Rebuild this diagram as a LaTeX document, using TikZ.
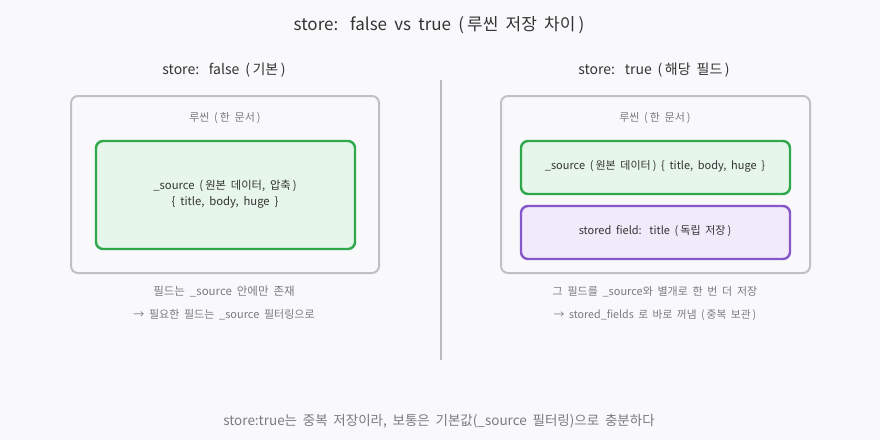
\documentclass[tikz,border=0pt]{standalone}
\usepackage{fontspec}
\setmainfont[WordSpace=1.9]{Noto Sans CJK KR}
\newcommand{\lpar}{(\hspace{0.18em}}
\newcommand{\rpar}{\hspace{0.18em})}
\begin{document}
\begin{tikzpicture}[x=1pt,y=-1pt,
  outerbox/.style={draw=outerc,line width=2pt,rounded corners=7pt,fill=bgc},
  srcbox/.style={draw=greenc,line width=2.4pt,rounded corners=7pt,fill=greenf},
  storedbox/.style={draw=purplec,line width=2.4pt,rounded corners=7pt,fill=purplef},
  lbl/.style={inner sep=0pt,anchor=center},
]
\definecolor{bgc}{HTML}{F9F9FC}
\definecolor{outerc}{HTML}{C0C1C7}
\definecolor{greenc}{HTML}{2EA84A}
\definecolor{greenf}{HTML}{E7F6EA}
\definecolor{purplec}{HTML}{8657C9}
\definecolor{purplef}{HTML}{F1EAFA}
\definecolor{darkt}{HTML}{333333}
\definecolor{grayt}{HTML}{7A7A80}
\definecolor{divc}{HTML}{BBBBC0}
\useasboundingbox (0,0) rectangle (880,440);
\fill[bgc] (0,0) rectangle (880,440);
% title
\node[lbl,text=darkt,font=\fontsize{17}{19}\selectfont] (title) at (439,25) {store:\hspace{0.2em} false vs true \lpar 루씬 저장 차이\rpar};
% headers
\node[lbl,text=darkt,font=\fontsize{14}{16}\selectfont] (lh) at (224,70) {store:\hspace{0.2em} false \lpar 기본\rpar};
\node[lbl,text=darkt,font=\fontsize{14}{16}\selectfont] (rh) at (654,70) {store:\hspace{0.2em} true \lpar 해당 필드\rpar};
% divider
\coordinate (dtop) at (441,80);
\coordinate (dbot) at (441,360);
\draw[divc,line width=1.5pt] (dtop) -- (dbot);
% left
\draw[outerbox] (71,96) rectangle (379,273);
\node[lbl,text=grayt,font=\fontsize{11}{12}\selectfont] (ll) at (225,118) {루씬 \lpar 한 문서\rpar};
\draw[srcbox] (96,141) rectangle (355,249);
\node[lbl,text=darkt,font=\fontsize{11.3}{15.5}\selectfont,align=center] (lsrc) at (225,194) {\_source \lpar 원본 데이터, 압축\rpar\\\{ title, body, huge \}};
\node[lbl,text=grayt,font=\fontsize{11.5}{12}\selectfont] (ln1) at (224,292) {필드는 \_source 안에만 존재};
\node[lbl,text=grayt,font=\fontsize{11}{12}\selectfont] (ln2) at (224,315) {→ 필요한 필드는 \_source 필터링으로};
% right
\draw[outerbox] (501,96) rectangle (810,273);
\node[lbl,text=grayt,font=\fontsize{11}{12}\selectfont] (rl) at (655,118) {루씬 \lpar 한 문서\rpar};
\draw[srcbox] (521,141) rectangle (790,194);
\node[lbl,text=darkt,font=\fontsize{11}{12}\selectfont] (rsrc) at (655,166) {\_source \lpar 원본 데이터\rpar\ \{ title, body, huge \}};
\draw[storedbox] (521,206) rectangle (790,259);
\node[lbl,text=darkt,font=\fontsize{11}{12}\selectfont] (rst) at (655,231) {stored field:\hspace{0.2em} title \lpar 독립 저장\rpar};
\node[lbl,text=grayt,font=\fontsize{11}{12}\selectfont] (rn1) at (655,292) {그 필드를 \_source와 별개로 한 번 더 저장};
\node[lbl,text=grayt,font=\fontsize{10.7}{11}\selectfont] (rn2) at (655,315) {→ stored\_fields 로 바로 꺼냄 \lpar 중복 보관\rpar};
% footer
\node[lbl,text=grayt,font=\fontsize{13.5}{15}\selectfont] (foot) at (439,421) {store:true는 중복 저장이라, 보통은 기본값(\_source 필터링)으로 충분하다};
\end{tikzpicture}
\end{document}
